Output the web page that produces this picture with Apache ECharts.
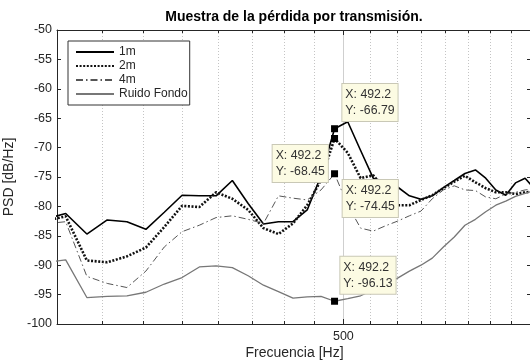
<!DOCTYPE html>
<html>
<head>
<meta charset="utf-8">
<script src="https://cdn.jsdelivr.net/npm/echarts@6/dist/echarts.min.js"></script>
<style>
  html, body { margin: 0; padding: 0; background: #ffffff; }
  #chart { width: 530px; height: 361px; }
</style>
</head>
<body>
<div id="chart"></div>
<script>
// Welch PSD bins (fs = 48 kHz, NFFT = 4096), 293 Hz .. 703 Hz
const freqHz = [
  292.97, 304.69, 316.41, 328.13, 339.84, 351.56, 363.28, 375.00, 386.72,
  398.44, 410.16, 421.88, 433.59, 445.31, 457.03, 468.75, 480.47, 492.19,
  503.91, 515.63, 527.34, 539.06, 550.78, 562.50, 574.22, 585.94, 597.66,
  609.38, 621.09, 632.81, 644.53, 656.25, 667.97, 679.69, 691.41, 703.13
];

// PSD in dB/Hz for each microphone distance and the background noise
const psd1m = [
  -82.2, -81.2, -84.7, -82.3, -82.6, -83.9, -81.0, -78.1, -78.2,
  -78.2, -75.6, -79.5, -83.0, -82.6, -82.6, -80.6, -74.8, -66.79,
  -65.6, -70.5, -75.2, -75.8, -76.7, -78.2, -78.8, -78.2, -76.8,
  -75.6, -74.4, -73.8, -75.2, -77.2, -78.1, -76.0, -75.2, -77.0
];
const psd2m = [
  -82.5, -81.7, -89.2, -89.5, -88.5, -87.0, -83.5, -79.9, -80.1,
  -77.6, -78.7, -80.6, -83.7, -84.7, -82.9, -79.8, -75.5, -68.45,
  -70.9, -75.2, -74.7, -77.3, -79.8, -79.8, -78.9, -78.1, -76.9,
  -75.8, -74.8, -75.9, -76.9, -77.6, -77.6, -77.9, -77.6, -77.5
];
const psd4m = [
  -83.0, -82.6, -91.9, -93.1, -93.8, -91.0, -86.9, -84.3, -83.2,
  -81.9, -81.6, -82.2, -82.9, -78.2, -78.6, -78.9, -77.2, -74.45,
  -79.8, -83.7, -84.2, -83.3, -82.5, -81.6, -80.8, -78.7, -77.2,
  -76.5, -77.2, -77.3, -78.4, -78.7, -77.9, -77.6, -77.2, -77.0
];
const psdNoise = [
  -89.6, -89.1, -95.5, -95.3, -95.2, -94.6, -93.2, -92.1, -90.3,
  -90.1, -90.4, -91.8, -93.4, -94.5, -95.6, -95.4, -95.3, -96.13,
  -95.7, -95.2, -94.2, -93.2, -92.2, -91.0, -90.0, -88.8, -86.9,
  -85.2, -83.2, -82.2, -80.9, -79.8, -79.1, -78.3, -77.8, -77.3
];

const seriesNames = ['1m', '2m', '4m', 'Ruido Fondo'];

// Axis ticks
const minorTicksHz = [325, 350, 375, 400, 425, 450, 475, 525, 550, 575, 600, 625, 650, 675];
const majorTicksHz = [500];
const xRange = [300, 700];
const yRange = [-100, -50];
const yStep = 5;

// Frequency of the data cursors
const cursorHz = 492.19;

const FONT = "'Liberation Sans', Arial, Helvetica, sans-serif";
const INK = '#262626';

function pairs(values) {
  return freqHz.map((f, i) => [f, values[i]]);
}

// Data cursor: black square on the curve plus a note box
function cursor(values, labelPos) {
  const i = freqHz.indexOf(cursorHz);
  const f = freqHz[i], v = values[i];
  return {
    silent: true,
    symbol: 'rect',
    symbolSize: 7,
    itemStyle: { color: '#000000' },
    label: {
      show: true,
      position: labelPos,
      align: 'left',
      verticalAlign: 'top',
      formatter: 'X: ' + f.toFixed(1) + '\nY: ' + v.toFixed(2),
      fontFamily: FONT,
      fontSize: 12.3,
      lineHeight: 16,
      color: '#333333',
      backgroundColor: '#fcfbe3',
      borderColor: '#c9c8b6',
      borderWidth: 1,
      padding: [3, 3, 2, 3]
    },
    data: [{ coord: [f, v] }]
  };
}

function lineSeries(name, values, style, labelPos) {
  return {
    name: name,
    type: 'line',
    xAxisIndex: 0,
    yAxisIndex: 0,
    data: pairs(values),
    symbol: 'none',
    showSymbol: false,
    clip: true,
    lineStyle: style,
    itemStyle: { color: style.color },
    emphasis: { disabled: true },
    markPoint: cursor(values, labelPos)
  };
}

const axisLineStyle = { color: INK, width: 1 };

const chart = echarts.init(document.getElementById('chart'), null, { renderer: 'canvas' });

chart.setOption({
  animation: false,
  backgroundColor: '#ffffff',
  title: {
    text: 'Muestra de la pérdida por transmisión.',
    left: 294,
    top: 10,
    padding: 0,
    textAlign: 'center',
    textStyle: { fontFamily: FONT, fontSize: 14, fontWeight: 'bold', color: '#000000' }
  },
  legend: {
    data: seriesNames,
    orient: 'vertical',
    left: 68,
    top: 41,
    padding: [4, 2, 4, 7],
    itemGap: 0,
    itemWidth: 38,
    itemHeight: 14,
    backgroundColor: '#ffffff',
    borderColor: '#333333',
    borderWidth: 1,
    borderRadius: 0,
    selectedMode: false,
    itemStyle: { opacity: 0 },
    textStyle: { fontFamily: FONT, fontSize: 12, lineHeight: 14, color: INK }
  },
  grid: { left: 57, top: 30, width: 475, height: 294, containLabel: false, outerBoundsMode: 'none' },
  xAxis: [
    {
      type: 'log', min: xRange[0], max: xRange[1], position: 'bottom',
      axisLine: { show: true, lineStyle: axisLineStyle },
      axisTick: { show: true, inside: true, length: 3, customValues: minorTicksHz, lineStyle: axisLineStyle },
      axisLabel: { show: false },
      splitLine: { show: true, lineStyle: { color: '#c4c4c4', width: 1, type: [1, 2] } },
      name: 'Frecuencia [Hz]', nameLocation: 'middle', nameGap: 22,
      nameTextStyle: { fontFamily: FONT, fontSize: 14, color: INK }
    },
    {
      type: 'log', min: xRange[0], max: xRange[1], position: 'bottom',
      axisLine: { show: false },
      axisTick: { show: true, inside: true, length: 5, customValues: majorTicksHz, lineStyle: axisLineStyle },
      axisLabel: { show: true, customValues: majorTicksHz, margin: 6, fontFamily: FONT, fontSize: 12.5, color: INK },
      splitLine: { show: true, lineStyle: { color: '#cfcfcf', width: 1, type: 'solid' } }
    },
    {
      type: 'log', min: xRange[0], max: xRange[1], position: 'top',
      axisLine: { show: true, lineStyle: axisLineStyle },
      axisTick: { show: true, inside: true, length: 3, customValues: minorTicksHz, lineStyle: axisLineStyle },
      axisLabel: { show: false },
      splitLine: { show: false }
    },
    {
      type: 'log', min: xRange[0], max: xRange[1], position: 'top',
      axisLine: { show: false },
      axisTick: { show: true, inside: true, length: 5, customValues: majorTicksHz, lineStyle: axisLineStyle },
      axisLabel: { show: false },
      splitLine: { show: false }
    }
  ],
  yAxis: [
    {
      type: 'value', min: yRange[0], max: yRange[1], interval: yStep, position: 'left',
      axisLine: { show: true, lineStyle: axisLineStyle },
      axisTick: { show: true, inside: true, length: 4, lineStyle: axisLineStyle },
      axisLabel: { show: true, margin: 5, fontFamily: FONT, fontSize: 12.5, color: INK },
      splitLine: { show: false },
      name: 'PSD [dB/Hz]', nameLocation: 'middle', nameGap: 37, nameRotate: 90,
      nameTextStyle: { fontFamily: FONT, fontSize: 14, color: INK }
    },
    {
      type: 'value', min: yRange[0], max: yRange[1], interval: yStep, position: 'right',
      axisLine: { show: true, lineStyle: axisLineStyle },
      axisTick: { show: true, inside: true, length: 5, lineStyle: axisLineStyle },
      axisLabel: { show: false },
      splitLine: { show: false }
    }
  ],
  series: [
    lineSeries('1m', psd1m, { color: '#000000', width: 1.6, type: 'solid' }, [11.3, -41.2]),
    lineSeries('2m', psd2m, { color: '#111111', width: 2.6, type: [2, 1.6], cap: 'butt' }, [-58.4, 10]),
    lineSeries('4m', psd4m, { color: '#555555', width: 1, type: [7, 3, 1.5, 3] }, [11.6, 9.7]),
    lineSeries('Ruido Fondo', psdNoise, { color: '#777777', width: 1.3, type: 'solid' }, [9.3, -41])
  ]
});
</script>
</body>
</html>
